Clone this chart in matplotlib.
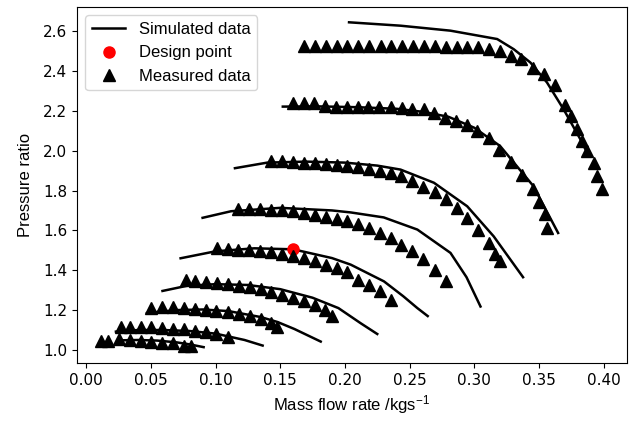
import matplotlib
matplotlib.use("Agg")
import matplotlib.pyplot as plt

plt.rcParams['mathtext.fontset'] = 'custom'
plt.rcParams['mathtext.rm'] = 'Liberation Sans'
plt.rcParams['mathtext.it'] = 'Liberation Sans:italic'

# simulated speed lines (mass flow, pressure ratio)
sim1_x = [0.025, 0.040, 0.055, 0.070, 0.080, 0.0908]
sim1_y = [1.048, 1.050, 1.047, 1.038, 1.028, 1.014]
sim2_x = [0.023, 0.040, 0.060, 0.080, 0.100, 0.1224, 0.1364]
sim2_y = [1.092, 1.100, 1.100, 1.095, 1.082, 1.050, 1.022]
sim3_x = [0.047, 0.070, 0.090, 0.110, 0.135, 0.148, 0.161, 0.1813]
sim3_y = [1.185, 1.200, 1.203, 1.195, 1.165, 1.140, 1.105, 1.042]
sim4_x = [0.059, 0.078, 0.100, 0.125, 0.150, 0.175, 0.195, 0.2122, 0.225]
sim4_y = [1.296, 1.322, 1.330, 1.326, 1.305, 1.262, 1.210, 1.134, 1.080]
sim5_x = [0.073, 0.100, 0.130, 0.160, 0.190, 0.2045, 0.2302, 0.245, 0.256, 0.264]
sim5_y = [1.460, 1.495, 1.510, 1.505, 1.461, 1.428, 1.344, 1.270, 1.210, 1.170]
sim6_x = [0.090, 0.112, 0.150, 0.190, 0.2045, 0.230, 0.256, 0.2816, 0.294, 0.3048]
sim6_y = [1.663, 1.696, 1.713, 1.700, 1.690, 1.665, 1.604, 1.487, 1.365, 1.218]
sim7_x = [0.115, 0.140, 0.170, 0.200, 0.225, 0.243, 0.2688, 0.2945, 0.315, 0.3377]
sim7_y = [1.912, 1.940, 1.945, 1.940, 1.925, 1.905, 1.839, 1.721, 1.570, 1.365]
sim8_x = [0.152, 0.180, 0.210, 0.240, 0.260, 0.280, 0.300, 0.320, 0.3457, 0.3648]
sim8_y = [2.221, 2.222, 2.218, 2.210, 2.195, 2.170, 2.115, 2.023, 1.822, 1.587]
sim9_x = [0.2032, 0.243, 0.2816, 0.3177, 0.3305, 0.3434, 0.3562, 0.369, 0.382, 0.388]
sim9_y = [2.644, 2.627, 2.602, 2.560, 2.509, 2.442, 2.342, 2.208, 2.057, 1.980]

# measured points
meas1_x = [0.0113, 0.0170, 0.0252, 0.0337, 0.0422, 0.0504, 0.0589, 0.0671, 0.0756, 0.0808]
meas1_y = [1.045, 1.045, 1.054, 1.050, 1.047, 1.042, 1.037, 1.034, 1.022, 1.020]
meas2_x = [0.0267, 0.0337, 0.0422, 0.0504, 0.0589, 0.0671, 0.0756, 0.0838, 0.0923, 0.1005, 0.1096]
meas2_y = [1.117, 1.117, 1.117, 1.114, 1.112, 1.107, 1.104, 1.097, 1.089, 1.080, 1.067]
meas3_x = [0.0504, 0.0589, 0.0671, 0.0756, 0.0838, 0.0923, 0.1005, 0.1096, 0.1181, 0.1263,
           0.1348, 0.1430, 0.1476]
meas3_y = [1.210, 1.213, 1.213, 1.208, 1.205, 1.201, 1.196, 1.188, 1.179, 1.168,
           1.154, 1.134, 1.114]
meas4_x = [0.0774, 0.0844, 0.0929, 0.1013, 0.1096, 0.1181, 0.1263, 0.1348, 0.1430, 0.1512,
           0.1597, 0.1682, 0.1765, 0.1847, 0.1900]
meas4_y = [1.349, 1.344, 1.339, 1.335, 1.330, 1.322, 1.315, 1.305, 1.293, 1.277,
           1.263, 1.247, 1.226, 1.201, 1.170]
meas5_x = [0.1011, 0.1093, 0.1175, 0.1260, 0.1345, 0.1427, 0.1512, 0.1600, 0.1680, 0.1767,
           0.1852, 0.1937, 0.2019, 0.2104, 0.2189, 0.2271, 0.2353]
meas5_y = [1.512, 1.508, 1.503, 1.500, 1.495, 1.490, 1.483, 1.473, 1.461, 1.444,
           1.428, 1.411, 1.389, 1.353, 1.328, 1.294, 1.251]
meas6_x = [0.1175, 0.1260, 0.1345, 0.1427, 0.1512, 0.1600, 0.1680, 0.1767, 0.1852, 0.1937,
           0.2019, 0.2104, 0.2186, 0.2271, 0.2353, 0.2436, 0.2521, 0.2606, 0.2693, 0.2778]
meas6_y = [1.709, 1.709, 1.708, 1.704, 1.701, 1.696, 1.688, 1.679, 1.668, 1.658,
           1.646, 1.632, 1.612, 1.587, 1.562, 1.529, 1.494, 1.456, 1.402, 1.344]
meas7_x = [0.1427, 0.1512, 0.1600, 0.1680, 0.1767, 0.1852, 0.1937, 0.2019, 0.2104, 0.2186,
           0.2271, 0.2353, 0.2436, 0.2521, 0.2606, 0.2693, 0.2778, 0.2863, 0.2945, 0.3030,
           0.3112, 0.3164, 0.3202]
meas7_y = [1.947, 1.947, 1.944, 1.939, 1.936, 1.931, 1.926, 1.922, 1.917, 1.908,
           1.897, 1.889, 1.872, 1.847, 1.819, 1.792, 1.755, 1.713, 1.663, 1.604,
           1.537, 1.483, 1.444]
meas8_x = [0.1595, 0.1680, 0.1762, 0.1847, 0.1931, 0.2014, 0.2099, 0.2181, 0.2266, 0.2353,
           0.2438, 0.2521, 0.2610, 0.2688, 0.2772, 0.2855, 0.2940, 0.3022, 0.3112, 0.3194,
           0.3280, 0.3370, 0.3451, 0.3498, 0.3544, 0.3562]
meas8_y = [2.241, 2.238, 2.238, 2.224, 2.221, 2.221, 2.221, 2.221, 2.221, 2.221,
           2.216, 2.211, 2.208, 2.187, 2.166, 2.149, 2.127, 2.098, 2.061, 2.002,
           1.943, 1.880, 1.810, 1.743, 1.680, 1.612]
meas9_x = [0.1685, 0.1767, 0.1852, 0.1937, 0.2019, 0.2104, 0.2189, 0.2276, 0.2358, 0.2443,
           0.2528, 0.2610, 0.2695, 0.2778, 0.2863, 0.2945, 0.3027, 0.3112, 0.3202, 0.3285,
           0.3362, 0.3455, 0.3537, 0.3627, 0.3704, 0.3748, 0.3794, 0.3833, 0.3871, 0.3927,
           0.3948, 0.3987]
meas9_y = [2.525, 2.525, 2.525, 2.525, 2.525, 2.525, 2.525, 2.525, 2.525, 2.525,
           2.525, 2.525, 2.525, 2.522, 2.522, 2.520, 2.518, 2.509, 2.501, 2.476,
           2.459, 2.417, 2.384, 2.328, 2.228, 2.174, 2.107, 2.048, 1.998, 1.939,
           1.872, 1.809]

design_x = [0.160]
design_y = [1.505]

sim_lines = [(sim1_x, sim1_y), (sim2_x, sim2_y), (sim3_x, sim3_y), (sim4_x, sim4_y),
             (sim5_x, sim5_y), (sim6_x, sim6_y), (sim7_x, sim7_y), (sim8_x, sim8_y),
             (sim9_x, sim9_y)]
meas_lines = [(meas1_x, meas1_y), (meas2_x, meas2_y), (meas3_x, meas3_y), (meas4_x, meas4_y),
              (meas5_x, meas5_y), (meas6_x, meas6_y), (meas7_x, meas7_y), (meas8_x, meas8_y),
              (meas9_x, meas9_y)]

fig = plt.figure(figsize=(6.32, 4.21), dpi=100)
ax = fig.add_axes([0.122, 0.138, 0.870, 0.845])

for i, (x, y) in enumerate(sim_lines):
    ax.plot(x, y, color='black', linewidth=1.8,
            label='Simulated data' if i == 0 else None)

ax.plot(design_x, design_y, 'o', color='red', markersize=8, label='Design point')

for i, (x, y) in enumerate(meas_lines):
    ax.plot(x, y, '^', color='black', markersize=8.5, linestyle='none',
            label='Measured data' if i == 0 else None)

ax.set_xlim(-0.007, 0.418)
ax.set_ylim(0.935, 2.72)
ax.set_xticks([0.00, 0.05, 0.10, 0.15, 0.20, 0.25, 0.30, 0.35, 0.40])
ax.set_yticks([1.0, 1.2, 1.4, 1.6, 1.8, 2.0, 2.2, 2.4, 2.6])
ax.tick_params(labelsize=11)
ax.set_xlabel('Mass flow rate /kgs$^{-1}$', fontsize=12, family='Liberation Sans')
ax.set_ylabel('Pressure ratio', fontsize=12, family='Liberation Sans', labelpad=7)
ax.legend(loc='upper left', prop={'family': 'Liberation Sans', 'size': 12})

fig.savefig('out.png', dpi=100)
